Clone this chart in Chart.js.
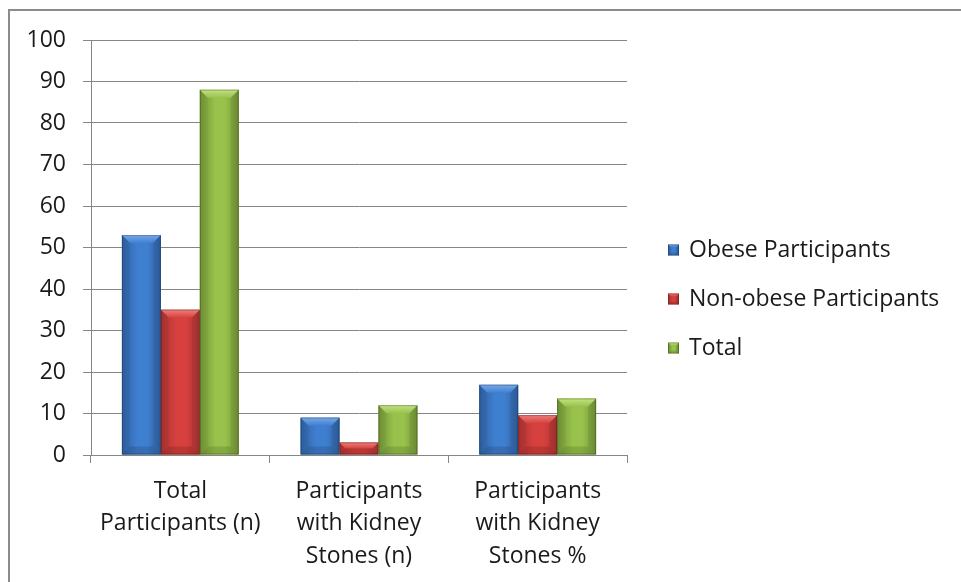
<!DOCTYPE html>
<html>
<head>
<meta charset="utf-8">
<script src="https://cdn.jsdelivr.net/npm/chart.js@4.4.1/dist/chart.umd.min.js"></script>
<style>
  html, body { margin: 0; padding: 0; background: #ffffff; }
  #wrap { position: relative; width: 961px; height: 582px; }
</style>
</head>
<body>
<div id="wrap"><canvas id="c" width="961" height="582"></canvas></div>
<script>
const categories = [
  ["Total", "Participants (n)"],
  ["Participants", "with Kidney", "Stones (n)"],
  ["Participants", "with Kidney", "Stones %"]
];
const seriesNames = ["Obese Participants", "Non-obese Participants", "Total"];
const obeseValues = [53, 9, 16.9];
const nonObeseValues = [35, 3, 9.6];
const totalValues = [88, 12, 13.6];
const yTicks = [0, 10, 20, 30, 40, 50, 60, 70, 80, 90, 100];

const palettes = [
  { base: '#4F81BD', dark: '#2f60a0', mid: '#3f7fd0', light: '#79a9e8', bottom: '#254d80' },
  { base: '#C0504D', dark: '#a83330', mid: '#d6413e', light: '#ee7f7c', bottom: '#862523' },
  { base: '#9BBB59', dark: '#729437', mid: '#98c24c', light: '#c3e283', bottom: '#5c7a2a' }
];

const FONT = "'Open Sans', 'DejaVu Sans', sans-serif";
const TEXT = '#1a1a1a';
const GRID = '#868686';

function drawBevelBox(ctx, l, t, r, b, p, bvMax) {
  const w = r - l, h = b - t;
  if (w <= 0 || h <= 0) return;
  const bv = Math.min(bvMax, h / 2, w / 2);
  let g = ctx.createLinearGradient(l, 0, r, 0);
  g.addColorStop(0, p.dark);
  g.addColorStop(0.4, p.mid);
  g.addColorStop(0.65, p.mid);
  g.addColorStop(1, p.dark);
  ctx.fillStyle = g;
  ctx.fillRect(l, t, w, h);
  // top bevel
  let gt = ctx.createLinearGradient(0, t, 0, t + bv);
  gt.addColorStop(0, p.light);
  gt.addColorStop(1, p.mid);
  ctx.fillStyle = gt;
  ctx.beginPath();
  ctx.moveTo(l, t); ctx.lineTo(r, t); ctx.lineTo(r - bv, t + bv); ctx.lineTo(l + bv, t + bv); ctx.closePath();
  ctx.fill();
  // left bevel
  ctx.fillStyle = 'rgba(0,0,0,0.04)';
  ctx.beginPath();
  ctx.moveTo(l, t); ctx.lineTo(l + bv, t + bv); ctx.lineTo(l + bv, b - bv); ctx.lineTo(l, b); ctx.closePath();
  ctx.fill();
  // right bevel
  ctx.fillStyle = 'rgba(0,0,0,0.07)';
  ctx.beginPath();
  ctx.moveTo(r, t); ctx.lineTo(r - bv, t + bv); ctx.lineTo(r - bv, b - bv); ctx.lineTo(r, b); ctx.closePath();
  ctx.fill();
  // bottom bevel
  ctx.fillStyle = p.bottom;
  ctx.globalAlpha = 0.35;
  ctx.beginPath();
  ctx.moveTo(l, b); ctx.lineTo(r, b); ctx.lineTo(r - bv, b - bv); ctx.lineTo(l + bv, b - bv); ctx.closePath();
  ctx.fill();
  ctx.globalAlpha = 1;
  ctx.strokeStyle = 'rgba(0,0,0,0.22)';
  ctx.lineWidth = 1;
  ctx.strokeRect(l + 0.5, t + 0.5, w - 1, h - 1);
}

const bevelPlugin = {
  id: 'bevel',
  beforeDraw(chart) {
    const ctx = chart.ctx;
    ctx.save();
    ctx.strokeStyle = '#8c8c8c';
    ctx.lineWidth = 2;
    ctx.beginPath();
    ctx.moveTo(9, 600); ctx.lineTo(9, 10); ctx.lineTo(1000, 10);
    ctx.stroke();
    ctx.restore();
  },
  afterDatasetsDraw(chart) {
    const ctx = chart.ctx;
    ctx.save();
    chart.data.datasets.forEach((ds, i) => {
      const meta = chart.getDatasetMeta(i);
      if (meta.hidden) return;
      meta.data.forEach(bar => {
        const pr = bar.getProps(['x', 'y', 'base', 'width'], true);
        const l = pr.x - pr.width / 2, r = pr.x + pr.width / 2;
        const t = Math.min(pr.y, pr.base), b = Math.max(pr.y, pr.base);
        drawBevelBox(ctx, l, t, r, b, palettes[i], 8);
      });
    });
    ctx.restore();
  },
  afterDraw(chart) {
    const ctx = chart.ctx;
    ctx.save();
    const x0 = 668, y0 = 250, step = 49;
    ctx.font = '23px ' + FONT;
    ctx.textBaseline = 'middle';
    ctx.textAlign = 'left';
    chart.data.datasets.forEach((ds, i) => {
      const cy = y0 + i * step;
      drawBevelBox(ctx, x0, cy - 5.5, x0 + 11, cy + 5.5, palettes[i], 3);
      ctx.fillStyle = TEXT;
      ctx.fillText(ds.label, x0 + 21, cy);
    });
    ctx.restore();
  }
};

new Chart(document.getElementById('c'), {
  type: 'bar',
  data: {
    labels: categories,
    datasets: [
      { label: seriesNames[0], data: obeseValues, backgroundColor: palettes[0].base },
      { label: seriesNames[1], data: nonObeseValues, backgroundColor: palettes[1].base },
      { label: seriesNames[2], data: totalValues, backgroundColor: palettes[2].base }
    ]
  },
  options: {
    responsive: false,
    animation: false,
    devicePixelRatio: 1,
    layout: { padding: { left: 0, top: 40, right: 334, bottom: 0 } },
    datasets: { bar: { categoryPercentage: 0.654, barPercentage: 1.0 } },
    plugins: {
      legend: { display: false },
      tooltip: { enabled: false }
    },
    scales: {
      x: {
        grid: { display: true, drawOnChartArea: false, offset: true, color: GRID, tickLength: 8, tickColor: GRID },
        border: { display: true, color: GRID, width: 1 },
        ticks: { color: TEXT, font: { family: FONT, size: 23, lineHeight: 1.41 }, padding: 12, maxRotation: 0, autoSkip: false },
        afterFit(scale) { scale.height = 127; }
      },
      y: {
        min: 0, max: 100,
        afterBuildTicks(scale) { scale.ticks = yTicks.map(v => ({ value: v })); },
        grid: { color: GRID, tickLength: 8, tickColor: GRID, lineWidth: 1 },
        border: { display: true, color: GRID, width: 1 },
        ticks: { color: TEXT, font: { family: FONT, size: 23 }, padding: 17 },
        afterFit(scale) { scale.width = 91; }
      }
    }
  },
  plugins: [bevelPlugin]
});
</script>
</body>
</html>
